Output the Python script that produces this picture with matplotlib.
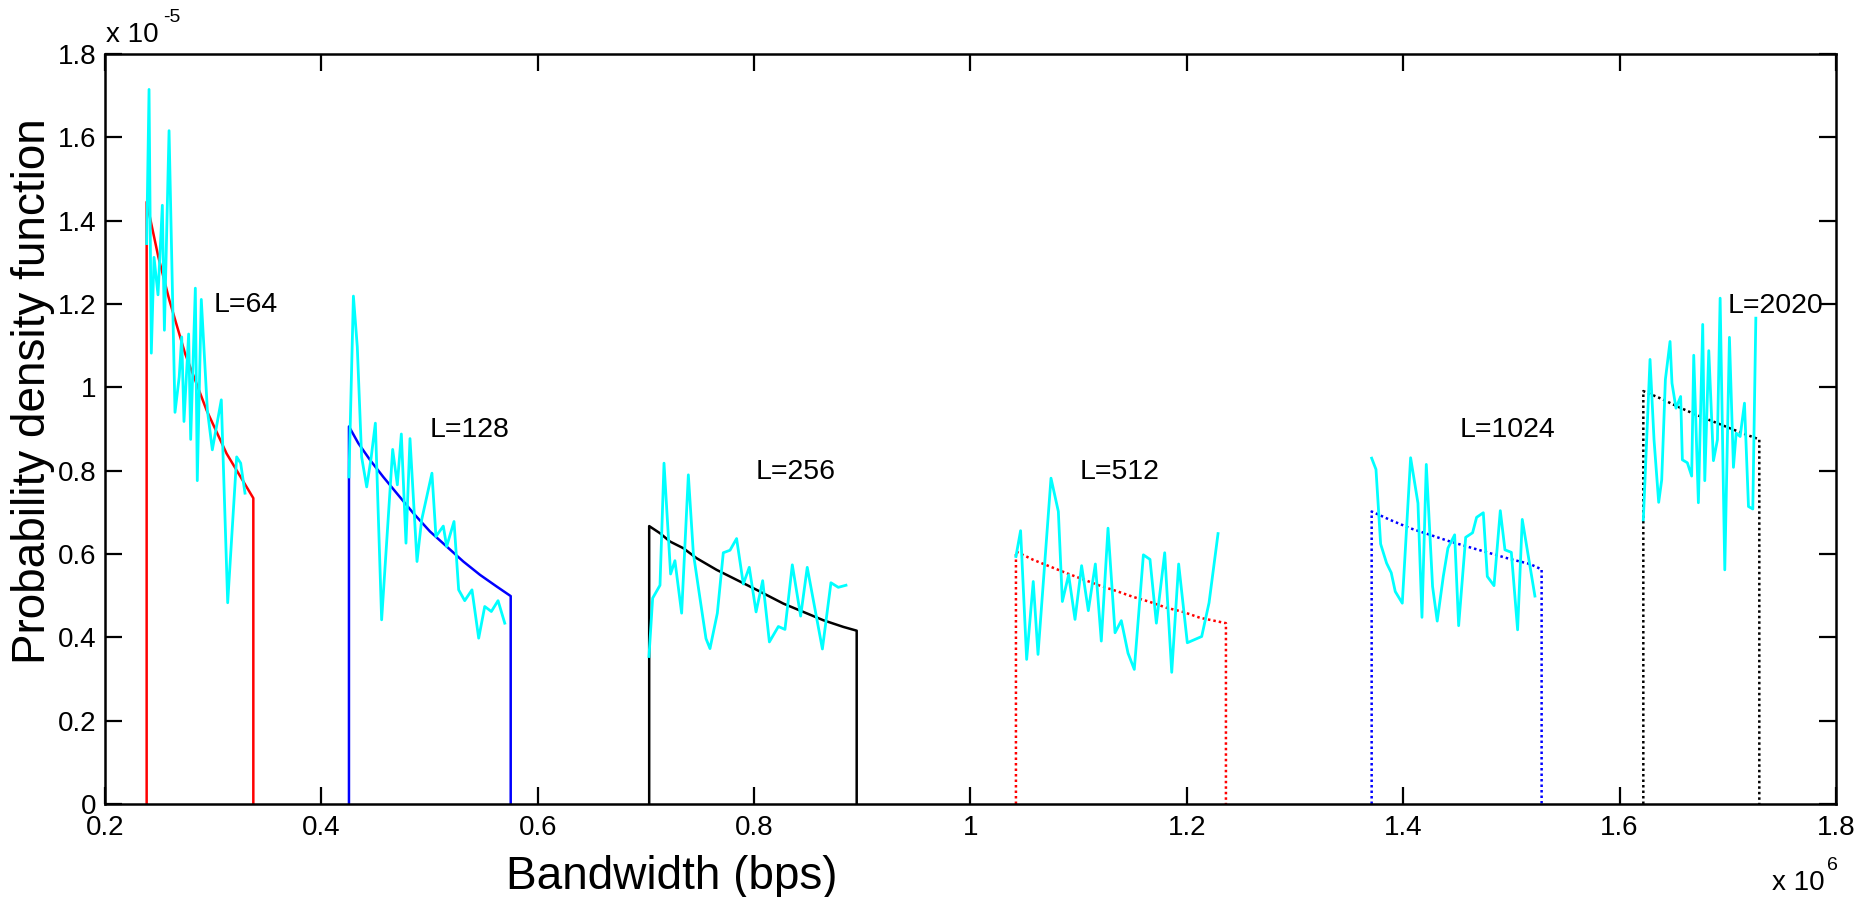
"""
plot.py
PDF del ancho de banda para distintos L: curva teorica + histograma simulado (cian).
Unidades: x en 1e6 bps, y en 1e-5.
"""
import matplotlib
matplotlib.use("Agg")
import matplotlib.pyplot as plt

# ---- Datos -------------------------------------------------------------------
# L=64
x64_teo = [0.2385, 0.2385, 0.2493, 0.2594, 0.2739, 0.2939, 0.3124, 0.3371, 0.3371]
y64_teo = [0.0, 1.445, 1.313, 1.210, 1.082, 0.945, 0.841, 0.734, 0.0]
x64_sim = [0.2385, 0.2407, 0.2428, 0.2453, 0.2490, 0.2530, 0.2549, 0.2592, 0.2647,
           0.2686, 0.2709, 0.2730, 0.2773, 0.2792, 0.2835, 0.2853, 0.2890, 0.2946,
           0.2992, 0.3075, 0.3134, 0.3217, 0.3254, 0.3294]
y64_sim = [1.345, 1.715, 1.082, 1.312, 1.222, 1.437, 1.137, 1.616, 0.940,
           1.025, 1.121, 0.918, 1.128, 0.875, 1.238, 0.776, 1.211, 0.946,
           0.850, 0.970, 0.483, 0.833, 0.818, 0.746]

# L=128
x128_teo = [0.4255, 0.4255, 0.4341, 0.4449, 0.4572, 0.4696, 0.4850, 0.5004, 0.5158,
            0.5312, 0.5466, 0.5620, 0.5750, 0.5750]
y128_teo = [0.0, 0.906, 0.866, 0.826, 0.785, 0.746, 0.698, 0.654, 0.618,
            0.582, 0.550, 0.522, 0.499, 0.0]
x128_sim = [0.4255, 0.4296, 0.4332, 0.4372, 0.4419, 0.4459, 0.4499, 0.4557, 0.4659,
            0.4702, 0.4739, 0.4782, 0.4819, 0.4884, 0.4927, 0.5022, 0.5059, 0.5127,
            0.5158, 0.5226, 0.5269, 0.5325, 0.5392, 0.5454, 0.5510, 0.5571, 0.5633,
            0.5695]
y128_sim = [0.785, 1.219, 1.097, 0.833, 0.761, 0.829, 0.914, 0.442, 0.851,
            0.766, 0.888, 0.626, 0.877, 0.582, 0.682, 0.794, 0.642, 0.667,
            0.618, 0.678, 0.514, 0.488, 0.514, 0.398, 0.474, 0.462, 0.488,
            0.434]

# L=256
x256_teo = [0.7030, 0.7030, 0.7129, 0.7222, 0.7345, 0.7468, 0.7653, 0.7838, 0.8023,
            0.8270, 0.8455, 0.8640, 0.8825, 0.8948, 0.8948]
y256_teo = [0.0, 0.667, 0.650, 0.630, 0.614, 0.590, 0.562, 0.538, 0.514,
            0.481, 0.461, 0.441, 0.425, 0.416, 0.0]
x256_sim = [0.7028, 0.7062, 0.7130, 0.7167, 0.7228, 0.7268, 0.7330, 0.7392, 0.7438,
            0.7493, 0.7555, 0.7592, 0.7660, 0.7715, 0.7777, 0.7838, 0.7900, 0.7955,
            0.8018, 0.8079, 0.8141, 0.8224, 0.8285, 0.8353, 0.8430, 0.8491, 0.8631,
            0.8710, 0.8778, 0.8849]
y256_sim = [0.354, 0.494, 0.525, 0.818, 0.552, 0.584, 0.458, 0.790, 0.602,
            0.505, 0.397, 0.373, 0.458, 0.603, 0.609, 0.637, 0.528, 0.568,
            0.461, 0.536, 0.389, 0.426, 0.419, 0.574, 0.451, 0.568, 0.372,
            0.531, 0.520, 0.525]

# L=512
x512_teo = [1.0420, 1.0420, 1.0580, 1.0734, 1.0888, 1.1042, 1.1196, 1.1350, 1.1504,
            1.1658, 1.1812, 1.1966, 1.2120, 1.2361, 1.2361]
y512_teo = [0.0, 0.606, 0.586, 0.570, 0.554, 0.539, 0.524, 0.511, 0.497,
            0.485, 0.471, 0.461, 0.447, 0.434, 0.0]
x512_sim = [1.0420, 1.0463, 1.0519, 1.0580, 1.0624, 1.0744, 1.0812, 1.0849, 1.0907,
            1.0966, 1.1027, 1.1089, 1.1154, 1.1209, 1.1271, 1.1336, 1.1394, 1.1456,
            1.1514, 1.1598, 1.1659, 1.1718, 1.1795, 1.1860, 1.1924, 1.2004, 1.2137,
            1.2205, 1.2288]
y512_sim = [0.594, 0.656, 0.347, 0.534, 0.359, 0.782, 0.702, 0.486, 0.550,
            0.443, 0.572, 0.464, 0.576, 0.391, 0.662, 0.411, 0.440, 0.362,
            0.323, 0.598, 0.587, 0.434, 0.603, 0.316, 0.576, 0.387, 0.402,
            0.483, 0.649]

# L=1024
x1024_teo = [1.3708, 1.3708, 1.3877, 1.4062, 1.4247, 1.4432, 1.4616, 1.4801, 1.4986,
             1.5171, 1.5279, 1.5279]
y1024_teo = [0.0, 0.702, 0.682, 0.662, 0.646, 0.630, 0.616, 0.602, 0.588,
             0.576, 0.563, 0.0]
x1024_sim = [1.3708, 1.3748, 1.3791, 1.3846, 1.3889, 1.3926, 1.3991, 1.4068, 1.4136,
             1.4173, 1.4213, 1.4271, 1.4314, 1.4370, 1.4413, 1.4475, 1.4512, 1.4577,
             1.4641, 1.4678, 1.4740, 1.4777, 1.4839, 1.4897, 1.4940, 1.4999, 1.5057,
             1.5100, 1.5217]
y1024_sim = [0.830, 0.803, 0.624, 0.578, 0.555, 0.510, 0.482, 0.831, 0.722,
             0.448, 0.815, 0.522, 0.439, 0.546, 0.614, 0.646, 0.428, 0.640,
             0.651, 0.688, 0.699, 0.546, 0.524, 0.704, 0.610, 0.604, 0.418,
             0.683, 0.499]

# L=2020
x2020_teo = [1.6219, 1.6219, 1.6373, 1.6527, 1.6681, 1.6835, 1.6989, 1.7144, 1.7291, 1.7291]
y2020_teo = [0.0, 0.991, 0.974, 0.955, 0.937, 0.921, 0.905, 0.889, 0.875, 0.0]
x2020_sim = [1.6219, 1.6281, 1.6318, 1.6361, 1.6389, 1.6423, 1.6466, 1.6484, 1.6521,
             1.6564, 1.6580, 1.6626, 1.6666, 1.6685, 1.6728, 1.6768, 1.6787, 1.6824,
             1.6867, 1.6904, 1.6929, 1.6972, 1.7015, 1.7052, 1.7077, 1.7114, 1.7154,
             1.7191, 1.7231, 1.7259]
y2020_sim = [0.682, 1.067, 0.874, 0.724, 0.778, 1.019, 1.110, 1.010, 0.950,
             0.978, 0.826, 0.819, 0.787, 1.077, 0.723, 1.151, 0.776, 1.088,
             0.824, 0.874, 1.214, 0.562, 1.120, 0.808, 0.890, 0.882, 0.962,
             0.714, 0.708, 1.166]

etiquetas = ["L=64", "L=128", "L=256", "L=512", "L=1024", "L=2020"]
etiq_x = [0.300, 0.500, 0.801, 1.101, 1.452, 1.700]
etiq_y = [1.197, 0.898, 0.796, 0.796, 0.898, 1.196]

xticks = [0.2, 0.4, 0.6, 0.8, 1.0, 1.2, 1.4, 1.6, 1.8]
xtick_labels = ["0.2", "0.4", "0.6", "0.8", "1", "1.2", "1.4", "1.6", "1.8"]
yticks = [0.0, 0.2, 0.4, 0.6, 0.8, 1.0, 1.2, 1.4, 1.6, 1.8]
ytick_labels = ["0", "0.2", "0.4", "0.6", "0.8", "1", "1.2", "1.4", "1.6", "1.8"]

# ---- Estilo ------------------------------------------------------------------
FONT = "Liberation Sans"
CYAN = "#00FFFF"
DOT = (0, (1.0, 1.2))
W, H = 1874, 897
plt.rcParams["font.family"] = [FONT, "DejaVu Sans"]

fig = plt.figure(figsize=(W / 100, H / 100), dpi=100)
ax = fig.add_axes([105 / W, 1 - 804 / H, 1731 / W, 750 / H])

# curvas teoricas (debajo) y simuladas (encima)
teo = [
    (x64_teo, y64_teo, "red", "-"),
    (x128_teo, y128_teo, "blue", "-"),
    (x256_teo, y256_teo, "black", "-"),
    (x512_teo, y512_teo, "red", DOT),
    (x1024_teo, y1024_teo, "blue", DOT),
    (x2020_teo, y2020_teo, "black", DOT),
]
for xs, ys, c, ls in teo:
    ax.plot(xs, ys, color=c, ls=ls, lw=1.8, zorder=2)

for xs, ys in [(x64_sim, y64_sim), (x128_sim, y128_sim), (x256_sim, y256_sim),
               (x512_sim, y512_sim), (x1024_sim, y1024_sim), (x2020_sim, y2020_sim)]:
    ax.plot(xs, ys, color=CYAN, lw=2.0, zorder=3)

for t, tx, ty in zip(etiquetas, etiq_x, etiq_y):
    ax.text(tx, ty, t, fontsize=20.5, ha="left", va="center", zorder=4)

ax.set_xlim(0.2, 1.8)
ax.set_ylim(0.0, 1.8)
ax.set_xticks(xticks)
ax.set_xticklabels(xtick_labels)
ax.set_yticks(yticks)
ax.set_yticklabels(ytick_labels)
ax.tick_params(direction="in", length=12, width=1.6, labelsize=20,
               top=True, right=True)
ax.tick_params(axis="y", pad=6)
ax.tick_params(axis="x", pad=8)
for sp in ax.spines.values():
    sp.set_linewidth(1.8)

# etiquetas de ejes (posicion igual a la figura original)
fig.text(672 / W, 1 - 889 / H, "Bandwidth (bps)", fontsize=33,
         ha="center", va="baseline")
fig.text(33 / W, 1 - 391 / H, "Probability density function", fontsize=33,
         ha="center", va="center", rotation=90)

# factores de escala estilo MATLAB
fig.text(106 / W, 1 - 42 / H, "x 10", fontsize=20, va="baseline")
fig.text(163 / W, 1 - 22 / H, "-5", fontsize=14, va="baseline")
fig.text(1772 / W, 1 - 890 / H, "x 10", fontsize=20, va="baseline")
fig.text(1827 / W, 1 - 870 / H, "6", fontsize=14, va="baseline")

fig.savefig("out.png", dpi=100)
